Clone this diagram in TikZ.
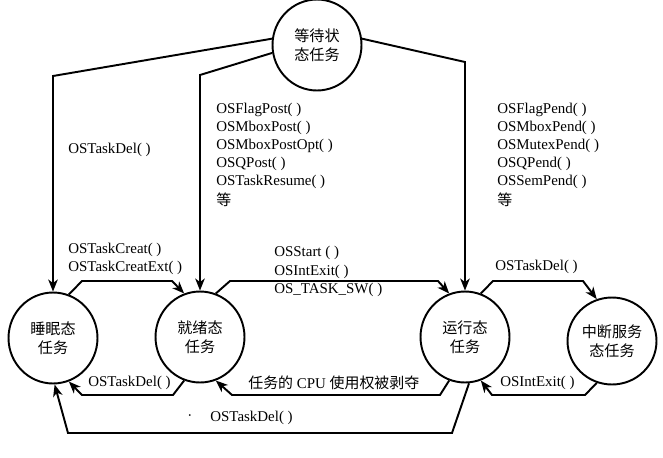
\documentclass[tikz,border=0pt]{standalone}
\usepackage{fontspec}
\setmainfont{Liberation Serif}
\newfontfamily\cjk{Noto Sans CJK SC}
\usetikzlibrary{arrows.meta, shapes.geometric}

\begin{document}
\begin{tikzpicture}[x=0.02cm, y=-0.02cm,
          st/.style={draw, ellipse, line width=1.1pt, minimum width=1.78cm, minimum height=1.82cm, inner sep=0pt, align=center, font=\cjk\fontsize{8.6}{10.8}\selectfont},
          ar/.style={line width=1.1pt, -{Stealth[length=2.4mm, width=1.9mm, inset=0.7mm]}},
          lbl/.style={anchor=west, inner sep=0pt, font=\fontsize{8.5}{10}\selectfont}
        ]
        \useasboundingbox (0,0) rectangle (663,457);
        \node[st] (wait) at (317,45) {等待状\\态任务};
        \node[st] (sleep) at (53,338) {睡眠态\\任务};
        \node[st] (ready) at (200,337) {就绪态\\任务};
        \node[st] (run) at (465,337) {运行态\\任务};
        \node[st, minimum height=1.74cm] (isr) at (612,341) {中断服务\\态任务};
        \draw[ar] (wait.172) -- (53,76) -- (sleep.north);
        \draw[ar] (wait.190) -- (200,75) -- (ready.north);
        \draw[ar] (wait.8) -- (465,62) -- (run.north);
        \draw[ar] (sleep.70) -- (82,281) -- (172,281) -- (ready.110);
        \draw[ar] (ready.70) -- (230,281) -- (438,281) -- (run.110);
        \draw[ar] (run.70) -- (493,281) -- (583,281) -- (isr.110);
        \draw[ar] (ready.250) -- (173,395) -- (82,395) -- (sleep.290);
        \draw[ar] (run.250) -- (440,395) -- (232,395) -- (ready.290);
        \draw[ar] (isr.250) -- (585,395) -- (492,395) -- (run.290);
        \draw[ar] (run.275) -- (452,433) -- (68,433) -- (sleep.272);
        \node[lbl] (del1) at (68,150) {OSTaskDel( )};
        \foreach \t [count=\i] in {OSFlagPost( ), OSMboxPost( ), OSMboxPostOpt( ), OSQPost( ), OSTaskResume( ), {\cjk 等}}
          \node[lbl] (post\i) at (216,92+18*\i) {\t};
        \foreach \t [count=\i] in {OSFlagPend( ), OSMboxPend( ), OSMutexPend( ), OSQPend( ), OSSemPend( ), {\cjk 等}}
          \node[lbl] (pend\i) at (497,92+18*\i) {\t};
        \node[lbl] (cr1) at (68,250) {OSTaskCreat( )};
        \node[lbl] (cr2) at (68,268) {OSTaskCreatExt( )};
        \node[lbl] (sw1) at (274,253) {OSStart ( )};
        \node[lbl] (sw2) at (274,272) {OSIntExit( )};
        \node[lbl] (sw3) at (274,290) {OS\_TASK\_SW( )};
        \node[lbl] (del2) at (495,267) {OSTaskDel( )};
        \node[lbl] (del3) at (88,383) {OSTaskDel( )};
        \node[lbl] (pre) at (248,383) {{\cjk 任务的} CPU {\cjk 使用权被剥夺}};
        \node[lbl] (ie) at (500,383) {OSIntExit( )};
        \node[lbl] (dot) at (187,418) {·};
        \node[lbl] (del4) at (210,418) {OSTaskDel( )};
      \end{tikzpicture}
\end{document}
